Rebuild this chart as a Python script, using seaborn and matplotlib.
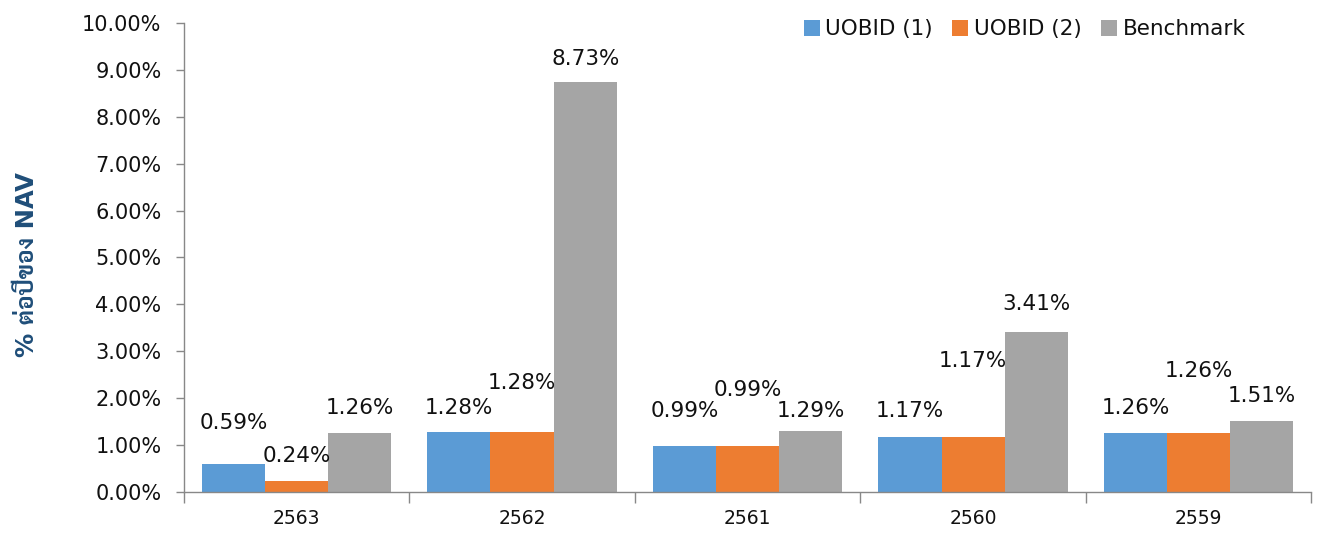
import matplotlib
matplotlib.use("Agg")
import matplotlib.pyplot as plt
import seaborn as sns
import pandas as pd
from matplotlib.ticker import FuncFormatter
from matplotlib.patches import Patch

years = ["2563", "2562", "2561", "2560", "2559"]
series = ["UOBID (1)", "UOBID (2)", "Benchmark"]
uobid1 = [0.59, 1.28, 0.99, 1.17, 1.26]
uobid2 = [0.24, 1.28, 0.99, 1.17, 1.26]
bench = [1.26, 8.73, 1.29, 3.41, 1.51]
yticks = [0, 1, 2, 3, 4, 5, 6, 7, 8, 9, 10]
ylabel = "% ต่อปีของ NAV"

# label vertical offsets in pixels above bar top (layout only)
label_off = {
    "UOBID (1)": [41, 24, 35, 26, 25],
    "UOBID (2)": [25, 49, 56, 76, 62],
    "Benchmark": [25, 23, 20, 28, 25],
}

colors = ["#5B9BD5", "#ED7D31", "#A5A5A5"]

rows = []
for s, vals in zip(series, [uobid1, uobid2, bench]):
    for y, v in zip(years, vals):
        rows.append({"year": y, "series": s, "value": v})
df = pd.DataFrame(rows)

sns.set_style("white")
thai_fam = ["DejaVu Sans", "Sarabun", "Bai Jamjuree", "Noto Sans Thai"]
plt.rcParams["font.family"] = thai_fam

fig = plt.figure(figsize=(13.22, 5.33), dpi=100)
ax = fig.add_axes([0.139, 0.077, 0.853, 0.880])

sns.barplot(data=df, x="year", y="value", hue="series", order=years,
            hue_order=series, palette=colors, width=0.84, linewidth=0,
            saturation=1, ax=ax, legend=False)

ax.set_ylim(0, 10)
ax.set_xlim(-0.5, 4.5)
ax.set_yticks(yticks)
ax.yaxis.set_major_formatter(FuncFormatter(lambda v, p: f"{v:.2f}%"))
ax.tick_params(axis="y", labelsize=15, length=6, width=1, color="#888888",
               direction="out", left=True, pad=10, labelcolor="#111111")
ax.set_xticks(range(len(years)))
ax.set_xticklabels(years)
ax.tick_params(axis="x", which="major", length=0, labelsize=13.5, pad=12,
               labelcolor="#111111")
ax.set_xticks([i - 0.5 for i in range(len(years) + 1)], minor=True)
ax.tick_params(axis="x", which="minor", length=8, width=1, color="#888888",
               direction="out", bottom=True)
for sp in ["top", "right"]:
    ax.spines[sp].set_visible(False)
for sp in ["left", "bottom"]:
    ax.spines[sp].set_color("#888888")
    ax.spines[sp].set_linewidth(1)
ax.set_xlabel("")
ax.set_ylabel(ylabel, fontsize=17.5, fontweight="bold", color="#1F4E79",
              family=thai_fam)
ax.yaxis.set_label_coords(-0.128, 0.484)

# data labels
for cont, s in zip(ax.containers, series):
    for bar, off in zip(cont, label_off[s]):
        h = bar.get_height()
        ax.annotate(f"{h:.2f}%", (bar.get_x() + bar.get_width() / 2, h),
                    xytext=(0, off), textcoords="offset pixels",
                    ha="center", va="center", fontsize=15.5, color="#111111")

handles = [Patch(facecolor=c, edgecolor="none") for c in colors]
fig.legend(handles, series, loc="center", bbox_to_anchor=(0.775, 0.945),
           ncol=3, frameon=False, fontsize=15.5, handlelength=0.75,
           handleheight=0.75, handletextpad=0.25, columnspacing=0.9,
           labelcolor="#111111")

fig.savefig("out.png", dpi=100)
